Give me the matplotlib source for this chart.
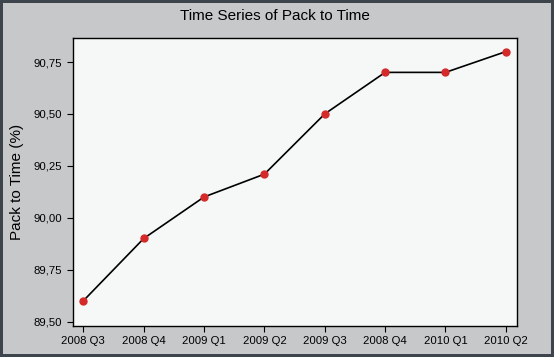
import matplotlib.pyplot as plt

# Data
quarters = ["2008 Q3", "2008 Q4", "2009 Q1", "2009 Q2", "2009 Q3", "2008 Q4", "2010 Q1", "2010 Q2"]
pack_to_time = [89.60, 89.90, 90.10, 90.21, 90.50, 90.70, 90.70, 90.80]
y_ticks = [89.50, 89.75, 90.00, 90.25, 90.50, 90.75]
y_tick_labels = ["89,50", "89,75", "90,00", "90,25", "90,50", "90,75"]

plt.rcParams["font.family"] = ["Liberation Sans", "DejaVu Sans"]

fig = plt.figure(figsize=(5.54, 3.57), dpi=100)
fig.patch.set_facecolor("#c6c8ca")
fig.patch.set_edgecolor("#3e444c")
fig.patch.set_linewidth(3)

ax = fig.add_axes([72.5 / 554, 1 - 325.7 / 357, (516.7 - 72.5) / 554, (325.7 - 37.5) / 357])
ax.set_facecolor("#f6f8f8")

x = list(range(len(quarters)))
ax.plot(x, pack_to_time, color="black", linewidth=1.2, zorder=2)
ax.plot(x, pack_to_time, "o", color="#d42a2a", markersize=5, zorder=3)

ax.set_xlim(-0.18, 7.18)
ax.set_ylim(89.48, 90.868)
ax.set_xticks(x)
ax.set_xticklabels(quarters)
ax.set_yticks(y_ticks)
ax.set_yticklabels(y_tick_labels)
ax.tick_params(labelsize=8.2, length=4, width=0.8, colors="black")

for s in ax.spines.values():
    s.set_linewidth(1)

ax.set_ylabel("Pack to Time (%)", fontsize=11, labelpad=7)
fig.text(275 / 554, 1 - 16 / 357, "Time Series of Pack to Time", ha="center", va="center", fontsize=11)

fig.savefig("out.png", dpi=100, facecolor=fig.get_facecolor(), edgecolor=fig.get_edgecolor())
